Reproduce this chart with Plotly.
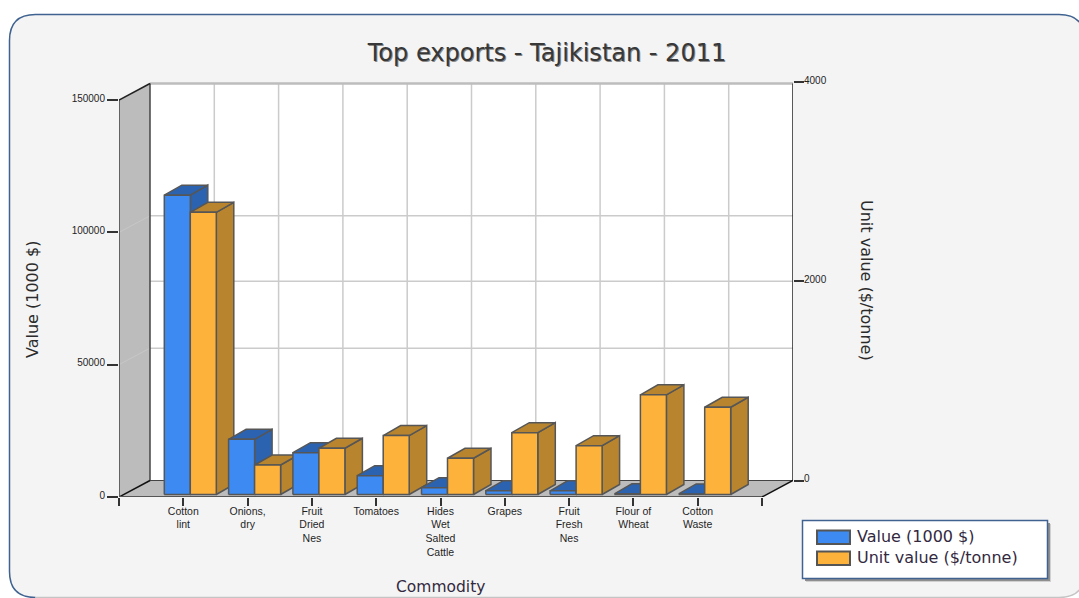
import plotly.graph_objects as go

# Chart content
categories = ["Cotton<br>lint", "Onions,<br>dry", "Fruit<br>Dried<br>Nes", "Tomatoes",
              "Hides<br>Wet<br>Salted<br>Cattle", "Grapes", "Fruit<br>Fresh<br>Nes",
              "Flour of<br>Wheat", "Cotton<br>Waste"]
export_value = [113100, 20850, 15800, 7100, 2570, 1435, 1400, 250, 200]
unit_value = [2832, 296, 464, 591, 364, 621, 490, 1000, 876]

value_ticks = [0, 50000, 100000, 150000]
unit_ticks = [0, 2000, 4000]

W, H = 1079, 598

# Pixel frame of the pseudo-3D box
FRONT_LEFT, FRONT_RIGHT = 119.0, 762.0
BACK_RIGHT = 793.0
PLOT_TOP, PLOT_BOTTOM = 82.0, 497.0
VALUE_TOP_PX = 100.0
UNIT_ZERO_PX = 480.5

SLOT_PX = (FRONT_RIGHT - FRONT_LEFT) / 10
PX_PER_VALUE = (PLOT_BOTTOM - VALUE_TOP_PX) / 150000
PX_PER_UNIT = (UNIT_ZERO_PX - PLOT_TOP) / 4000

x_range = [0, (BACK_RIGHT - FRONT_LEFT) / SLOT_PX]
value_range = [0, (PLOT_BOTTOM - PLOT_TOP) / PX_PER_VALUE]
unit_range = [-(PLOT_BOTTOM - UNIT_ZERO_PX) / PX_PER_UNIT, 4000]


def dx(px):
    return px / SLOT_PX


def dy(px):
    return px / PX_PER_VALUE


def unit_to_left(u):
    # Unit values share the left axis coordinates so that faces can be painted back to front
    return dy(PLOT_BOTTOM - UNIT_ZERO_PX + u * PX_PER_UNIT)


WALL_DX, WALL_DY = dx(31), dy(16.5)
BAR_DX, BAR_DY = dx(17.5), dy(10)
BAR_BASE = dy(2.5)
BAR_W = dx(26)
BAR_START = dx(-19)

EDGE = "#565656"
GRID = "#cbcbcb"
WALL = "#bcbcbc"
AXIS = "#333333"
BLUE = ("#3d8bf2", "#2b63b1")
ORANGE = ("#fdb23c", "#b8852e")
TEXT = "#2b2b2b"
TITLE_TEXT = "#383838"
FONT_LABEL = "Liberation Sans"
FONT_MAIN = "DejaVu Sans"
BORDER = "#3f6290"

fig = go.Figure()


def polygon(xs, ys, fill, line=EDGE, width=1.5, name=None):
    fig.add_trace(go.Scatter(
        x=list(xs) + [xs[0]], y=list(ys) + [ys[0]], mode="lines", fill="toself",
        fillcolor=fill, line=dict(color=line, width=width), hoverinfo="skip" if name is None else "name",
        name=name or "", showlegend=False))


def stroke(xs, ys, color=AXIS, width=1.5):
    fig.add_trace(go.Scatter(x=xs, y=ys, mode="lines", line=dict(color=color, width=width),
                             hoverinfo="skip", showlegend=False))


x_end = 10.0
top_front = 150000.0

# Side wall, floor and back wall
polygon([0, WALL_DX, WALL_DX, 0], [0, WALL_DY, top_front + WALL_DY, top_front], WALL, line=WALL, width=0)
polygon([0, WALL_DX, x_end + WALL_DX, x_end], [0, WALL_DY, WALL_DY, 0], WALL, line=WALL, width=0)
polygon([WALL_DX, x_end + WALL_DX, x_end + WALL_DX, WALL_DX],
        [WALL_DY, WALL_DY, top_front + WALL_DY, top_front + WALL_DY], "#ffffff", line="#ffffff", width=0)

# Gridlines on the back wall and their continuation on the side wall
for k in range(1, 10):
    stroke([k + WALL_DX, k + WALL_DX], [WALL_DY, top_front + WALL_DY], GRID, 1.5)
for v in value_ticks[1:3]:
    stroke([WALL_DX, x_end + WALL_DX], [v + WALL_DY, v + WALL_DY], GRID, 1.5)
    stroke([0, WALL_DX], [v, v + WALL_DY], "#c7c7c7", 1)
u_mid = unit_to_left(unit_ticks[1])
stroke([WALL_DX, x_end + WALL_DX], [u_mid, u_mid], GRID, 1.5)

# Box edges
stroke([WALL_DX, x_end + WALL_DX], [top_front + WALL_DY] * 2, "#bdbdbd", 2.5)
stroke([WALL_DX, x_end + WALL_DX], [WALL_DY, WALL_DY], "#444444", 1.2)
stroke([WALL_DX, WALL_DX], [WALL_DY, top_front + WALL_DY], "#444444", 1.5)
stroke([x_end + WALL_DX, x_end + WALL_DX], [WALL_DY, top_front + WALL_DY], "#222222", 1.5)
stroke([0, 0], [0, top_front], "#444444", 1.5)
stroke([0, WALL_DX], [top_front, top_front + WALL_DY], "#222222", 1.5)
stroke([0, WALL_DX], [0, WALL_DY], "#111111", 1.5)
stroke([x_end, x_end + WALL_DX], [0, WALL_DY], "#111111", 1.5)
stroke([0, x_end], [0, 0], "#555555", 2)


def draw_bar(x0, top, colors, name):
    x1 = x0 + BAR_W
    polygon([x1, x1 + BAR_DX, x1 + BAR_DX, x1],
            [BAR_BASE, BAR_BASE + BAR_DY, top + BAR_DY, top], colors[1], name=name)
    polygon([x0, x1, x1 + BAR_DX, x0 + BAR_DX],
            [top, top, top + BAR_DY, top + BAR_DY], colors[1], name=name)
    polygon([x0, x1, x1, x0], [BAR_BASE, BAR_BASE, top, top], colors[0], name=name)


# Bars are painted left to right so nearer faces cover the ones behind them
for i in range(len(categories)):
    left = (i + 1) + BAR_START
    draw_bar(left, BAR_BASE + export_value[i], BLUE, f"Value (1000 $): {export_value[i]}")
    draw_bar(left + BAR_W, BAR_BASE + unit_to_left(unit_value[i]) - unit_to_left(0),
             ORANGE, f"Unit value ($/tonne): {unit_value[i]}")

# Carrier trace that activates the right-hand axis
fig.add_trace(go.Scatter(x=list(range(1, 10)), y=unit_value, yaxis="y2", mode="markers",
                         marker=dict(opacity=0), hoverinfo="skip", showlegend=False))


def px_x(p):
    return p / W


def px_y(p):
    return 1 - p / H


def pt(x, y):
    return f"{px_x(x)} {px_y(y)}"


# Rounded card behind the chart: fill, blue upper outline, pale lower edge
CARD_L, CARD_T, CARD_R, CARD_B, R = 9.5, 14.5, 1085.0, 597.5, 26.0
upper = (f"M {pt(CARD_L + R, CARD_B)} Q {pt(CARD_L, CARD_B)} {pt(CARD_L, CARD_B - R)} "
         f"L {pt(CARD_L, CARD_T + R)} Q {pt(CARD_L, CARD_T)} {pt(CARD_L + R, CARD_T)} "
         f"L {pt(CARD_R - R, CARD_T)} Q {pt(CARD_R, CARD_T)} {pt(CARD_R, CARD_T + R)} "
         f"L {pt(CARD_R, CARD_B - R)}")
lower = (f"M {pt(CARD_R, CARD_B - R)} Q {pt(CARD_R, CARD_B)} {pt(CARD_R - R, CARD_B)} "
         f"L {pt(CARD_L + R, CARD_B)}")
shapes = [
    dict(type="path", path=upper + " " + lower.replace("M", "L", 1) + " Z", xref="paper", yref="paper",
         layer="below", fillcolor="#f4f4f4", line=dict(width=0)),
    dict(type="path", path=upper, xref="paper", yref="paper", layer="below", line=dict(color=BORDER, width=1.5)),
    dict(type="path", path=lower, xref="paper", yref="paper", layer="below", line=dict(color="#c4c4c4", width=1.5)),
]


def box(x0, y0, x1, y1, fill, line=None, width=0):
    return dict(type="rect", xref="paper", yref="paper", x0=px_x(x0), x1=px_x(x1), y0=px_y(y0), y1=px_y(y1),
                fillcolor=fill, line=dict(color=line or fill, width=width), layer="above")


# Legend panel with soft drop shadow and swatches
shapes += [
    box(806, 524, 1051, 582, "#d0d0d0"),
    box(805, 523, 1050, 581, "#8f8f8f"),
    box(802.5, 520.5, 1047.5, 578.5, "#ffffff", BORDER, 1.5),
    box(817, 530.5, 850, 544, BLUE[0], "#555555", 2),
    box(817, 551.5, 850, 565, ORANGE[0], "#555555", 2),
]

annotations = [
    dict(text="Value (1000 $)", x=px_x(32), y=px_y(299), textangle=-90, font=dict(size=16, family=FONT_MAIN, color=TEXT)),
    dict(text="Unit value ($/tonne)", x=px_x(867), y=px_y(280), textangle=90, font=dict(size=16, family=FONT_MAIN, color=TEXT)),
    dict(text="Commodity", x=px_x(440), y=px_y(587), font=dict(size=15.5, family=FONT_MAIN, color="#33293f")),
    dict(text="Value (1000 $)", x=px_x(855), y=px_y(536), xanchor="left", font=dict(size=16, family=FONT_MAIN, color="#33293f")),
    dict(text="Unit value ($/tonne)", x=px_x(855), y=px_y(557), xanchor="left", font=dict(size=16, family=FONT_MAIN, color="#33293f")),
]
for a in annotations:
    a.update(xref="paper", yref="paper", showarrow=False)
    a.setdefault("xanchor", "center")
    a.setdefault("yanchor", "middle")

tick_font = dict(family=FONT_LABEL, size=10, color="#1f1f1f")
fig.update_layout(
    width=W, height=H, margin=dict(l=0, r=0, t=0, b=0, autoexpand=False),
    paper_bgcolor="#ffffff", plot_bgcolor="rgba(0,0,0,0)", showlegend=False,
    title=dict(text="Top exports - Tajikistan - 2011", x=547 / W, xanchor="center", y=px_y(53), yanchor="middle",
               font=dict(family=FONT_MAIN, size=24, color=TITLE_TEXT, shadow="1px 1px 0px #8a8a8a")),
    xaxis=dict(domain=[px_x(FRONT_LEFT), px_x(BACK_RIGHT)], range=x_range, showgrid=False, zeroline=False,
               showline=False, tickmode="array", tickvals=list(range(0, 11)),
               ticktext=[""] + categories + [""], ticks="outside", ticklen=8, tickwidth=1.5, tickcolor=AXIS,
               tickangle=0, ticklabelstandoff=-4, tickfont=dict(family=FONT_LABEL, size=10.5, color="#1f1f1f")),
    yaxis=dict(domain=[px_y(PLOT_BOTTOM), px_y(PLOT_TOP)], range=value_range, showgrid=False, zeroline=False,
               showline=False, tickmode="array", tickvals=value_ticks, ticktext=[str(v) for v in value_ticks],
               ticks="outside", ticklen=11, tickwidth=1.5, tickcolor=AXIS, tickfont=tick_font, ticklabelshift=-2),
    yaxis2=dict(overlaying="y", side="right", anchor="x", range=unit_range, showgrid=False, zeroline=False,
                showline=False, tickmode="array", tickvals=unit_ticks, ticktext=[str(v) for v in unit_ticks],
                ticks="outside", ticklen=10, tickwidth=1.5, tickcolor=AXIS, tickfont=tick_font, ticklabelshift=-2,
                ticklabelstandoff=-2),
    shapes=shapes, annotations=annotations,
)

fig.write_html("out.html")
